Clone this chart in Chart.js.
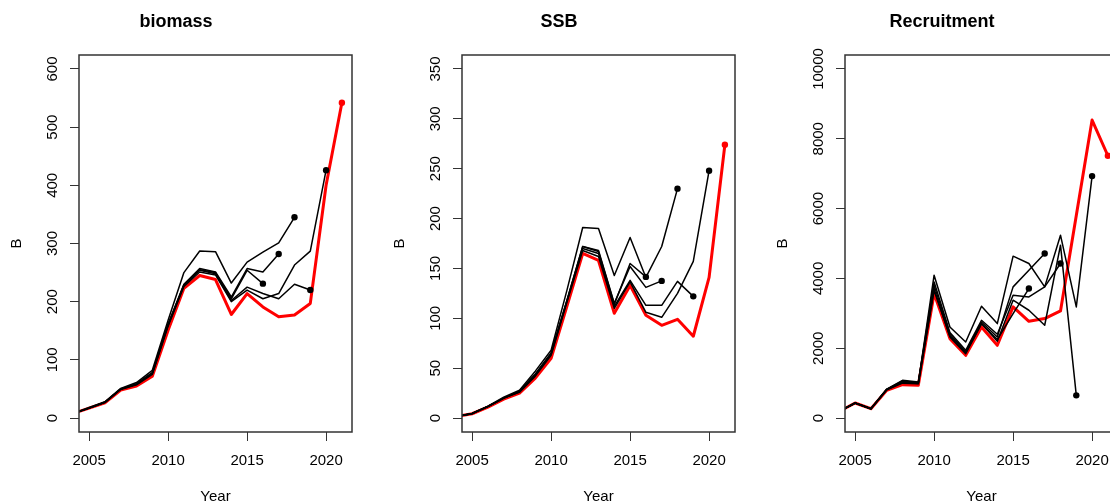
<!DOCTYPE html>
<html>
<head>
<meta charset="utf-8">
<script src="https://cdn.jsdelivr.net/npm/chart.js@4.4.1/dist/chart.umd.min.js"></script>
<style>
  html, body { margin: 0; padding: 0; background: #fff; overflow: hidden; }
  #wrap { position: relative; width: 1110px; height: 504px; overflow: hidden; }
  canvas { position: absolute; top: 0; }
</style>
</head>
<body>
<div id="wrap">
  <canvas id="c0" width="383" height="504" style="left:0px"></canvas>
  <canvas id="c1" width="383" height="504" style="left:383px"></canvas>
  <canvas id="c2" width="383" height="504" style="left:766px"></canvas>
</div>
<script>
// Años y marcas de los ejes
const years = [2004, 2005, 2006, 2007, 2008, 2009, 2010, 2011, 2012, 2013, 2014, 2015, 2016, 2017, 2018, 2019, 2020, 2021];
const xTicks = [2005, 2010, 2015, 2020];
const biomassTicks = [0, 100, 200, 300, 400, 500, 600];
const ssbTicks = [0, 50, 100, 150, 200, 250, 300, 350];
const recTicks = [0, 2000, 4000, 6000, 8000, 10000];

// biomass: corrida base (roja) y corridas retrospectivas (negras, terminan 2020..2016)
const biomassBase = [8, 17, 26, 48, 55, 72, 151, 223, 245, 238, 178, 214, 191, 174, 177, 197, 400, 542];
const biomassPeels = [
  [8, 17, 27, 49, 57, 75, 158, 226, 251, 246, 200, 220, 205, 214, 263, 287, 426],
  [8, 17, 27, 50, 58, 77, 160, 228, 254, 248, 202, 225, 214, 205, 230, 220],
  [8, 18, 28, 51, 61, 82, 168, 250, 287, 286, 232, 268, 285, 301, 345],
  [8, 17, 27, 50, 59, 78, 162, 230, 257, 251, 208, 257, 251, 282],
  [8, 17, 27, 50, 58, 77, 160, 229, 255, 250, 205, 254, 231]
];

// SSB
const ssbBase = [1.6, 4.3, 11, 19, 25, 40, 60, 112, 165, 158, 105, 133, 103, 93, 99, 82, 141, 274];
const ssbPeels = [
  [1.6, 4.4, 11.5, 20, 26, 42, 63, 116, 168, 162, 110, 136.5, 106, 101, 125, 157, 248],
  [1.6, 4.4, 11.5, 20, 26, 43, 64, 117, 170, 165, 112, 138, 113, 113, 137, 122],
  [1.7, 4.6, 12, 21, 28, 47, 68, 128, 191, 190, 143, 181, 141, 172, 230],
  [1.6, 4.5, 11.7, 20, 27, 44, 65, 118, 172, 168, 115, 152, 131, 137.5],
  [1.6, 4.5, 11.7, 20, 27, 44, 65, 118, 172, 167, 114, 155, 141.5]
];

// Recruitment
const recBase = [190, 430, 268, 793, 956, 937, 3566, 2275, 1797, 2610, 2084, 3183, 2772, 2849, 3069, 5800, 8537, 7514];
const recPeels = [
  [190, 430, 268, 820, 1050, 1000, 4092, 2610, 2180, 3203, 2705, 4637, 4426, 3757, 5239, 3183, 6931],
  [190, 430, 268, 810, 1000, 980, 3700, 2323, 1845, 2705, 2200, 3375, 3088, 2658, 4952, 650],
  [190, 430, 268, 830, 1080, 1030, 3900, 2450, 1940, 2800, 2400, 3518, 3470, 3757, 4426],
  [190, 430, 268, 820, 1060, 1010, 3800, 2400, 1900, 2750, 2323, 3757, 4235, 4713],
  [190, 430, 268, 810, 1020, 990, 3650, 2350, 1870, 2700, 2250, 2990, 3709]
];

Chart.defaults.font.family = '"Liberation Sans", Arial, Helvetica, sans-serif';
Chart.defaults.color = '#000';

// Caja alrededor del área y etiquetas del eje y giradas (estilo R)
const rBox = {
  id: 'rBox',
  afterDraw(chart) {
    const { ctx, chartArea: a, scales: { y } } = chart;
    ctx.save();
    ctx.strokeStyle = '#333';
    ctx.lineWidth = 1.5;
    ctx.strokeRect(a.left, a.top, a.right - a.left, a.bottom - a.top);
    ctx.font = '15px "Liberation Sans", Arial, sans-serif';
    ctx.fillStyle = '#000';
    ctx.textAlign = 'center';
    ctx.textBaseline = 'middle';
    y.ticks.forEach(t => {
      ctx.save();
      ctx.translate(a.left - 26, y.getPixelForValue(t.value));
      ctx.rotate(-Math.PI / 2);
      ctx.fillText(String(t.value), 0, 0);
      ctx.restore();
    });
    ctx.restore();
  }
};

// rango con 4% extra como hace R
function extend(lo, hi) {
  const d = (hi - lo) * 0.04;
  return [lo - d, hi + d];
}

function serie(values, color, width) {
  const last = values.length - 1;
  return {
    data: values.map((v, i) => ({ x: years[i], y: v })),
    borderColor: color,
    backgroundColor: color,
    borderWidth: width,
    borderJoinStyle: 'round',
    borderCapStyle: 'round',
    pointRadius: ctx => ctx.dataIndex === last ? 3.2 : 0,
    pointBorderWidth: 0,
    pointBackgroundColor: color,
    tension: 0,
    fill: false
  };
}

function makePanel(id, title, base, peels, yTicks) {
  const [xmin, xmax] = extend(xTicks[0], years[years.length - 1]);
  const [ymin, ymax] = extend(yTicks[0], yTicks[yTicks.length - 1]);

  // negras primero para que queden encima de la roja
  const datasets = peels.map(p => serie(p, '#000', 1.5));
  datasets.push(serie(base, '#ff0000', 3));

  new Chart(document.getElementById(id), {
    type: 'line',
    data: { datasets },
    options: {
      responsive: false,
      animation: false,
      events: [],
      layout: { padding: { left: 0, right: 31, top: 0, bottom: 0 } },
      plugins: {
        legend: { display: false },
        tooltip: { enabled: false },
        title: {
          display: true,
          text: title,
          font: { size: 18, weight: 'bold', lineHeight: 1 },
          color: '#000',
          padding: { top: 13, bottom: 24 }
        }
      },
      scales: {
        x: {
          type: 'linear',
          min: xmin,
          max: xmax,
          afterBuildTicks: s => { s.ticks = xTicks.map(v => ({ value: v })); },
          afterFit: s => { s.height = 72; },
          border: { display: false },
          grid: { drawOnChartArea: false, drawTicks: true, tickLength: 9, tickColor: '#333', tickWidth: 1 },
          ticks: { font: { size: 15 }, color: '#000', padding: 11, maxRotation: 0, autoSkip: false, callback: v => String(v) },
          title: { display: true, text: 'Year', font: { size: 15, lineHeight: 1 }, color: '#000', padding: { top: 0, bottom: 0 } }
        },
        y: {
          type: 'linear',
          min: ymin,
          max: ymax,
          afterBuildTicks: s => { s.ticks = yTicks.map(v => ({ value: v })); },
          afterFit: s => { s.width = 79; },
          border: { display: false },
          grid: { drawOnChartArea: false, drawTicks: true, tickLength: 9, tickColor: '#333', tickWidth: 1 },
          ticks: { display: false },
          title: { display: true, text: 'B', font: { size: 15, lineHeight: 1 }, color: '#000', padding: { top: 9.5, bottom: 0 } }
        }
      }
    },
    plugins: [rBox]
  });
}

makePanel('c0', 'biomass', biomassBase, biomassPeels, biomassTicks);
makePanel('c1', 'SSB', ssbBase, ssbPeels, ssbTicks);
makePanel('c2', 'Recruitment', recBase, recPeels, recTicks);
</script>
</body>
</html>
